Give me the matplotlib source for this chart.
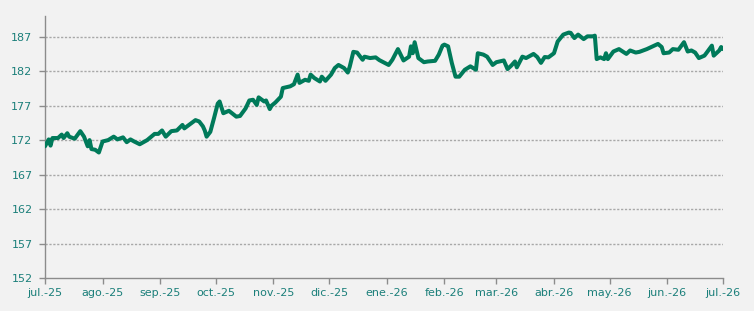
import numpy as np
import pandas as pd
import matplotlib
matplotlib.use('Agg')
import matplotlib.pyplot as plt
import matplotlib.dates as mdates

# days since 1 Jul 2025, and index value
day_offset = [0, 2, 3, 4, 7, 9, 10, 12, 13, 16, 19, 21, 23, 24, 25, 27, 29, 31,
              34, 37, 39, 42, 44, 46, 48, 51, 55, 59, 61, 63, 65, 68, 71, 74,
              75, 77, 81, 83, 85, 86, 87, 89, 91, 93, 94, 96, 99, 103, 105, 108,
              110, 112, 114, 115, 118, 119, 121, 122, 124, 127, 128, 132, 134,
              136, 137, 140, 142, 143, 145, 148, 149, 151, 154, 156, 158, 161,
              163, 164, 166, 168, 171, 172, 175, 178, 180, 185, 187, 190, 193,
              196, 197, 198, 199, 201, 204, 206, 210, 212, 214, 215, 217, 219,
              221, 223, 226, 229, 232, 233, 236, 238, 241, 243, 247, 249, 251,
              253, 254, 257, 259, 263, 265, 267, 269, 271, 274, 276, 279, 282,
              283, 285, 287, 290, 292, 295, 296, 297, 299, 301, 302, 303, 306,
              309, 311, 313, 315, 318, 320, 324, 328, 330, 332, 333, 336, 338,
              341, 344, 346, 348, 350, 352, 355, 356, 359, 360, 363, 364, 365]
values = [171.1, 172.1, 171.2, 172.3, 172.3, 172.8, 172.3, 173.0, 172.5, 172.2,
          173.3, 172.5, 171.1, 172.0, 170.7, 170.6, 170.2, 171.8, 172.0, 172.5,
          172.1, 172.4, 171.7, 172.1, 171.8, 171.4, 172.0, 172.9, 172.9, 173.4,
          172.5, 173.3, 173.4, 174.2, 173.7, 174.1, 174.9, 174.7, 174.0, 173.4,
          172.5, 173.2, 175.2, 177.3, 177.6, 175.9, 176.25, 175.4, 175.5, 176.6,
          177.75, 177.85, 177.1, 178.2, 177.6, 177.75, 176.5, 177.0, 177.45,
          178.3, 179.55, 179.8, 180.1, 181.5, 180.3, 180.75, 180.6, 181.5,
          181.0, 180.5, 181.2, 180.6, 181.5, 182.45, 182.9, 182.45, 181.8,
          182.6, 184.8, 184.7, 183.65, 184.1, 183.9, 184.0, 183.6, 182.9,
          183.65, 185.2, 183.55, 184.1, 185.6, 184.6, 186.2, 183.9, 183.3,
          183.4, 183.5, 184.4, 185.7, 185.85, 185.6, 183.2, 181.2, 181.2,
          182.2, 182.7, 182.2, 184.6, 184.4, 184.1, 182.9, 183.3, 183.55,
          182.3, 182.8, 183.4, 182.55, 184.1, 183.9, 184.5, 184.05, 183.2,
          184.05, 184.0, 184.6, 186.3, 187.3, 187.6, 187.55, 186.8, 187.3,
          186.65, 187.05, 187.05, 187.15, 183.75, 184.0, 183.75, 184.6, 183.75,
          184.85, 185.2, 184.85, 184.5, 185.0, 184.7, 184.8, 185.2, 185.7,
          185.95, 185.5, 184.6, 184.7, 185.2, 185.1, 186.2, 184.85, 185.0,
          184.7, 183.9, 184.25, 184.6, 185.7, 184.25, 185.0, 185.5, 185.2]

month_labels = ['jul.-25', 'ago.-25', 'sep.-25', 'oct.-25', 'nov.-25', 'dic.-25',
                'ene.-26', 'feb.-26', 'mar.-26', 'abr.-26', 'may.-26', 'jun.-26',
                'jul.-26']
y_ticks = [152, 157, 162, 167, 172, 177, 182, 187]

start = pd.Timestamp('2025-07-01')
dates = start + pd.to_timedelta(day_offset, unit='D')
month_ticks = pd.date_range('2025-07-01', '2026-07-01', freq='MS')

bg = '#F2F2F2'
label_col = '#1B7F7A'
line_col = '#007A5A'

fig = plt.figure(figsize=(7.54, 3.11), dpi=100, facecolor=bg)
ax = fig.add_axes([45/754, 33/311, 678/754, 262/311])
ax.set_facecolor(bg)

ax.plot(dates, values, color=line_col, lw=2.9, solid_joinstyle='round',
        solid_capstyle='round', zorder=3)

ax.set_xlim(start, pd.Timestamp('2026-07-01'))
ax.set_ylim(152, 190)
ax.set_yticks(y_ticks)
ax.set_xticks(month_ticks)
ax.set_xticklabels(month_labels)

# dotted horizontal grid
for y in y_ticks[1:]:
    ax.axhline(y, color='#A8A8A8', lw=1.0, ls=(0, (1.6, 1.2)), zorder=1)

for s in ['top', 'right']:
    ax.spines[s].set_visible(False)
for s in ['left', 'bottom']:
    ax.spines[s].set_color('#8C8C8C')
    ax.spines[s].set_linewidth(1.0)

ax.tick_params(axis='both', colors='#8C8C8C', labelcolor=label_col,
               labelsize=8, length=4, width=1.0)
ax.tick_params(axis='y', pad=5)
ax.tick_params(axis='x', pad=3)

fig.savefig('out.png', dpi=100, facecolor=bg)
